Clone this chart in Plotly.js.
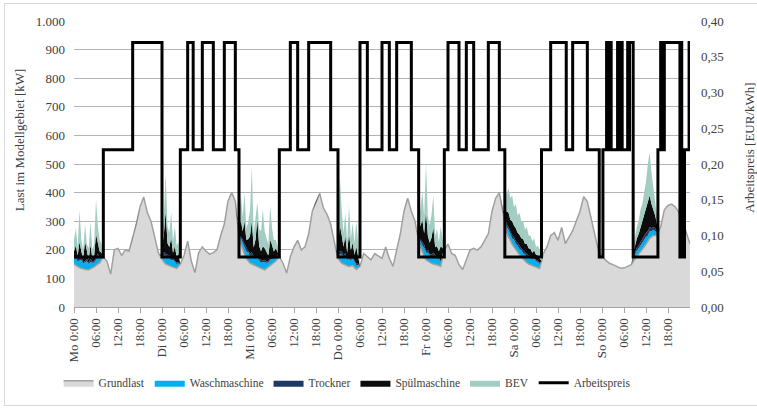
<!DOCTYPE html>
<html><head><meta charset="utf-8">
<script src="https://cdn.plot.ly/plotly-3.0.1.min.js"></script>
<style>
html,body{margin:0;padding:0;background:#fff;overflow:hidden}
#chart{width:757px;height:409px}
#frame{position:absolute;left:4px;top:3px;width:760px;height:401px;border:1px solid #d9d9d9;pointer-events:none}
</style>
</head><body>
<div id="chart"></div><div id="frame"></div>
<script>
// Grundlast, hourly (Mo 0:00 = hour 0)
const hours = [];
for (let h = 0; h <= 168; h++) hours.push(h);

const grundlast = [
150,140,135,130,130,135,145,155,175,160,115,200,205,180,200,195,240,290,350,385,330,300,245,190,
165,150,145,140,135,150,180,230,160,120,190,210,195,185,190,200,250,290,370,400,370,240,200,170,
153,148,142,135,130,140,148,160,176,153,119,176,210,233,199,210,256,335,369,398,347,324,290,222,
170,153,148,142,145,131,142,187,176,165,187,180,170,210,170,142,200,256,335,380,335,301,230,190,
165,155,150,148,142,200,220,187,180,148,131,165,199,205,199,210,233,256,335,380,400,335,260,230,
210,190,175,160,150,145,140,135,187,210,250,260,233,278,222,244,267,301,335,386,369,312,256,199,
176,165,153,148,142,136,136,142,148,170,185,200,220,240,250,250,280,340,355,360,350,330,300,260,220];

// flexible loads, half-hourly inside the low-price windows
const flexHours = [
0,0.5,1,1.5,2,2.5,3,3.5,4,4.5,5,5.5,6,6.5,7,7.5,8,
23.5,24,24.5,25,25.5,26,26.5,27,27.5,28,28.5,29,
44.5,45,45.5,46,46.5,47,47.5,48,48.5,49,49.5,50,50.5,51,51.5,52,52.5,53,53.5,54,54.5,55,55.5,56,
71.5,72,72.5,73,73.5,74,74.5,75,75.5,76,76.5,77,77.5,78,
93.5,94,94.5,95,95.5,96,96.5,97,97.5,98,98.5,99,99.5,100,100.5,101,
117,117.5,118,118.5,119,119.5,120,120.5,121,121.5,122,122.5,123,123.5,124,124.5,125,125.5,126,126.5,127,127.5,
152,152.5,153,153.5,154,154.5,155,155.5,156,156.5,157,157.5,158,158.5,159,159.5];

const waschmaschine = [
20,25,20,25,30,20,25,30,20,25,20,15,20,25,15,10,0,
0,15,25,30,25,30,20,25,20,15,10,0,
0,10,20,25,30,25,30,25,30,20,25,30,25,20,25,25,20,15,20,20,15,10,10,0,
0,10,25,30,25,30,20,25,20,25,20,15,10,0,
0,10,20,25,30,25,30,25,20,30,25,20,25,15,10,0,
0,15,20,25,25,20,25,20,25,20,25,20,25,20,20,25,20,25,20,20,15,0,
0,10,15,20,20,25,25,25,25,20,25,20,20,15,10,0];

const trockner = [
5,5,10,5,10,5,5,10,5,10,5,5,10,10,5,5,0,
0,5,10,5,10,5,10,5,5,5,5,0,
0,5,5,10,5,10,5,10,10,10,5,5,10,10,5,10,5,5,10,10,5,5,5,0,
0,5,10,10,5,10,5,10,5,5,5,5,5,0,
0,5,5,10,10,5,10,5,10,10,5,5,5,5,5,0,
0,5,10,10,10,10,10,10,10,10,5,10,5,10,10,5,5,5,5,5,5,0,
0,5,5,10,10,10,15,15,15,15,15,10,10,10,5,0];

const spuelmaschine = [
20,40,10,60,20,10,70,20,10,50,10,20,80,40,20,10,0,
0,20,60,150,40,30,70,20,50,20,30,0,
0,20,60,30,80,30,40,60,110,30,60,130,40,30,50,40,30,20,60,40,20,30,10,0,
0,20,90,60,30,60,20,80,30,50,20,60,20,0,
0,30,50,80,40,140,50,40,60,90,30,40,20,50,20,0,
0,20,45,50,40,50,40,45,35,40,35,40,30,35,25,25,20,25,18,18,15,0,
0,15,25,32,40,50,55,70,80,100,110,85,60,45,25,0];

const bev = [
40,60,30,110,40,30,60,30,40,80,30,40,120,60,40,30,0,
0,30,70,130,60,50,90,40,70,40,40,0,
0,30,90,50,100,40,60,90,190,50,70,60,60,70,130,60,50,40,120,60,40,30,20,0,
0,30,170,90,50,80,40,100,40,70,40,90,30,0,
0,30,60,100,60,170,70,60,80,110,40,60,30,70,30,0,
0,40,65,85,75,90,65,85,60,77,60,62,50,60,45,47,40,43,27,34,30,0,
0,20,35,40,45,63,65,80,100,135,150,110,80,60,40,0];

// Arbeitspreis step function (EUR/kWh), start hour of each step
const priceHours = [0,8,16,24,29,31,32.5,35,38,41,44,45,56,59,61,64,70,72,78,80,84,86,88,92,94,
  101,102,105,107,109,113,116,117.5,127.5,130,134.25,136,140,143.25,144.25,
  145.25,145.5,145.75,146.5,148.25,148.5,148.75,149.5,151,151.25,151.5,152.5,
  159.25,160,160.25,160.5,160.75,161,165.25,165.5,165.75,166.5,167.75,168];
const priceValues = [0.07,0.22,0.37,0.07,0.22,0.37,0.22,0.37,0.22,0.37,0.22,0.07,0.22,0.37,0.22,0.37,0.22,0.07,0.37,0.22,0.37,0.22,0.37,0.22,0.07,
  0.22,0.37,0.22,0.37,0.22,0.37,0.22,0.07,0.22,0.37,0.22,0.37,0.22,0.07,0.22,
  0.37,0.22,0.37,0.22,0.37,0.22,0.37,0.22,0.37,0.22,0.37,0.07,
  0.22,0.37,0.22,0.37,0.22,0.37,0.07,0.37,0.07,0.22,0.37,0.37];

const tickHours = [0,6,12,18,24,30,36,42,48,54,60,66,72,78,84,90,96,102,108,114,120,126,132,138,144,150,156,162];
const tickLabels = ["Mo 0:00","06:00","12:00","18:00","Di 0:00","06:00","12:00","18:00","Mi 0:00","06:00","12:00","18:00",
  "Do 0:00","06:00","12:00","18:00","Fr 0:00","06:00","12:00","18:00","Sa 0:00","06:00","12:00","18:00",
  "So 0:00","06:00","12:00","18:00"];

const names = ["Grundlast","Waschmaschine","Trockner","Spülmaschine","BEV"];
const series = [grundlast, waschmaschine, trockner, spuelmaschine, bev];
const fills = ["#d9d9d9","#00b0f0","#1f3864","#0d0d0d","#a3cdc2"];

const traces = series.map((s,i) => ({
  x: i===0 ? hours : flexHours, y: s, name: names[i], type:'scatter', mode:'lines',
  stackgroup:'one', stackgaps:'interpolate', fillcolor: fills[i],
  line: i===0 ? {color:'#a0a0a0', width:1.5} : {color:fills[i], width:0}
}));
traces.push({
  x: priceHours, y: priceValues, name:'Arbeitspreis', type:'scatter', mode:'lines',
  yaxis:'y2', line:{color:'#000', width:3, shape:'hv'}
});

const layout = {
  width:757, height:409,
  margin:{l:74, r:67, t:21, b:93},
  paper_bgcolor:'#fff', plot_bgcolor:'#fff',
  separators:',.',
  font:{family:'Liberation Serif, serif', size:13, color:'#404040'},
  showlegend:true,
  legend:{orientation:'h', x:-0.025, xanchor:'left', y:-0.265, yanchor:'middle', traceorder:'normal',
    font:{size:11.5}, itemwidth:30},
  xaxis:{range:[0,168], tickmode:'array', tickvals:tickHours, ticktext:tickLabels, tickangle:-90,
    ticks:'outside', ticklen:5, tickcolor:'#a6a6a6', showline:true, linecolor:'#a6a6a6', linewidth:1,
    showgrid:false, zeroline:false},
  yaxis:{range:[0,1000], dtick:100, tickformat:',d', separatethousands:true, showgrid:true, gridcolor:'#b3b3b3',
    zeroline:false, showline:false, ticks:'', ticklabelstandoff:8},
  yaxis2:{range:[0,0.4], dtick:0.05, tickformat:'.2f', overlaying:'y', side:'right', showgrid:false,
    zeroline:false, showline:false, ticks:'', ticklabelstandoff:10},
  annotations:[
    {text:'Last im Modellgebiet [kW]', xref:'paper', yref:'paper', x:-0.088, y:0.586, textangle:-90,
     showarrow:false, xanchor:'center', yanchor:'middle', font:{size:13}},
    {text:'Arbeitspreis [EUR/kWh]', xref:'paper', yref:'paper', x:1.097, y:0.556, textangle:-90,
     showarrow:false, xanchor:'center', yanchor:'middle', font:{size:13}}
  ]
};

Plotly.newPlot('chart', traces, layout, {displayModeBar:false, staticPlot:true});
</script>
</body></html>
